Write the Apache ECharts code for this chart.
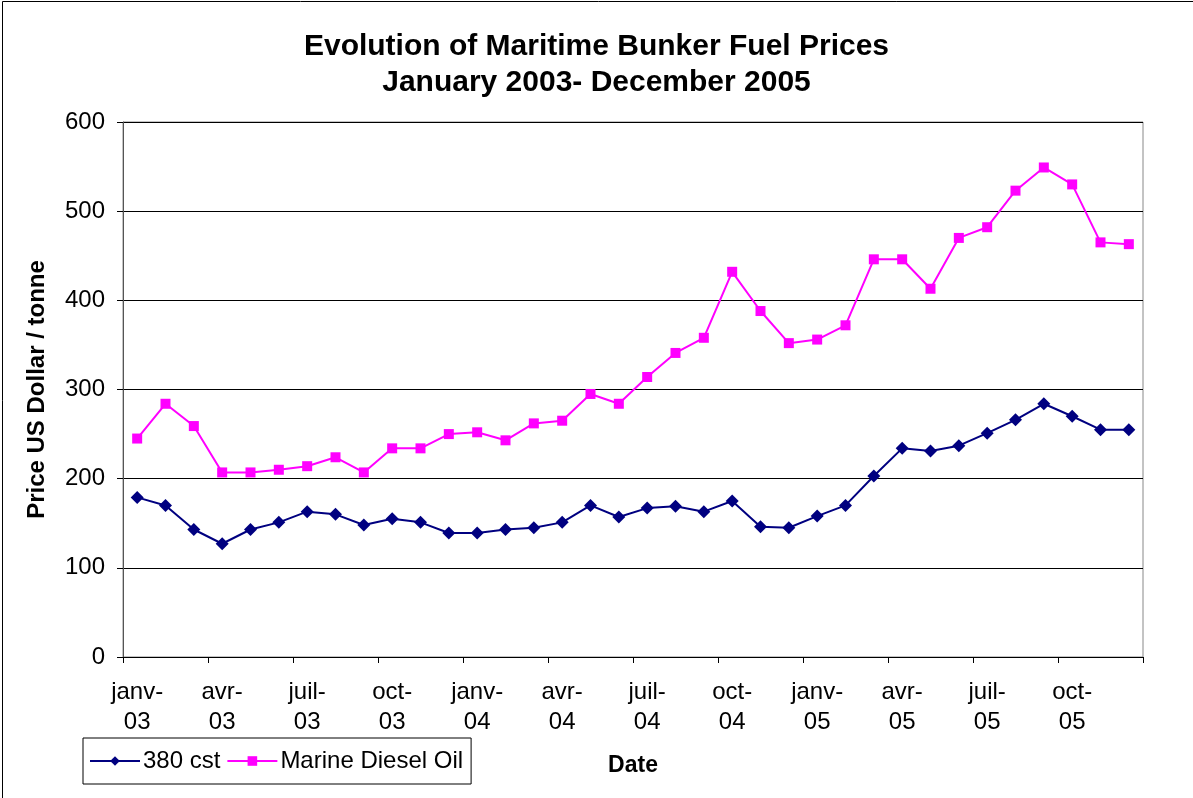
<!DOCTYPE html>
<html>
<head>
<meta charset="utf-8">
<script src="https://cdn.jsdelivr.net/npm/echarts@6/dist/echarts.min.js"></script>
<style>
  html, body { margin: 0; padding: 0; background: #fff; }
  #main { width: 1193px; height: 798px; }
</style>
</head>
<body>
<div id="main"></div>
<script>
// months jan 2003 - dec 2005
var months = ['janv','févr','mars','avr','mai','juin','juil','août','sept','oct','nov','déc'];
var years = ['03','04','05'];
var categories = [];
years.forEach(function(y) {
    months.forEach(function(m) { categories.push(m + '-' + y); });
});

var cst380 = [179,170,143,127,143,151,163,160,148,155,151,139,
              139,143,145,151,170,157,167,169,163,175,146,145,
              158,170,203,234,231,237,251,266,284,270,255,255];

var mdo = [245,284,259,207,207,210,214,224,207,234,234,250,
           252,243,262,265,295,284,314,341,358,432,388,352,
           356,372,446,446,413,470,482,523,549,530,465,463];

var font = 'Arial, "Liberation Sans", sans-serif';

var myChart = echarts.init(document.getElementById('main'));
var option = {
    backgroundColor: '#fff',
    animation: false,
    textStyle: { fontFamily: font },
    graphic: [{
        type: 'rect',
        shape: { x: 2.5, y: 1.5, width: 1300, height: 900 },
        style: { fill: 'none', stroke: '#000', lineWidth: 1 },
        silent: true
    }],
    title: {
        text: 'Evolution of Maritime Bunker Fuel Prices\nJanuary 2003- December 2005',
        left: 'center',
        top: 24,
        textStyle: { fontFamily: font, fontSize: 30, fontWeight: 'bold', color: '#000', lineHeight: 36, align: 'center' }
    },
    legend: {
        left: 83,
        top: 738,
        data: ['380 cst', 'Marine Diesel Oil'],
        orient: 'horizontal',
        itemWidth: 50,
        itemHeight: 12,
        itemGap: 6,
        padding: [11, 8, 11, 6],
        borderColor: '#000',
        borderWidth: 1,
        borderRadius: 0,
        textStyle: { fontFamily: font, fontSize: 24, color: '#000', padding: [0, 0, 0, -2] }
    },
    grid: { left: 123, right: 50, top: 122, bottom: 141, show: true, borderColor: '#888', borderWidth: 1 },
    xAxis: {
        type: 'category',
        data: categories,
        boundaryGap: true,
        name: 'Date',
        nameLocation: 'middle',
        nameGap: 97,
        nameTextStyle: { fontFamily: font, fontSize: 23, fontWeight: 'bold', color: '#000' },
        axisLine: { lineStyle: { color: '#000', width: 1 } },
        axisTick: { show: true, interval: 2, length: 6, lineStyle: { color: '#000' } },
        axisLabel: {
            interval: 2,
            margin: 20,
            fontSize: 24,
            lineHeight: 30,
            color: '#000',
            fontFamily: font,
            formatter: function(v) { return v.replace('-', '-\n'); }
        },
        splitLine: { show: false }
    },
    yAxis: {
        type: 'value',
        min: 0,
        max: 600,
        interval: 100,
        name: 'Price US Dollar / tonne',
        nameLocation: 'middle',
        nameGap: 74,
        nameTextStyle: { fontFamily: font, fontSize: 24, fontWeight: 'bold', color: '#000' },
        axisLine: { show: true, lineStyle: { color: '#555', width: 1 } },
        axisTick: { show: true, length: 6, lineStyle: { color: '#000' } },
        axisLabel: { fontSize: 24, color: '#000', margin: 18, fontFamily: font },
        splitLine: { show: true, lineStyle: { color: '#000', width: 1 } }
    },
    series: [
        {
            name: '380 cst',
            type: 'line',
            data: cst380,
            symbol: 'diamond',
            symbolSize: 13,
            color: '#000080',
            lineStyle: { width: 2, color: '#000080' },
            itemStyle: { color: '#000080' }
        },
        {
            name: 'Marine Diesel Oil',
            type: 'line',
            data: mdo,
            symbol: 'rect',
            symbolSize: 10,
            color: '#ff00ff',
            lineStyle: { width: 2, color: '#ff00ff' },
            itemStyle: { color: '#ff00ff' }
        }
    ]
};
myChart.setOption(option);
</script>
</body>
</html>
